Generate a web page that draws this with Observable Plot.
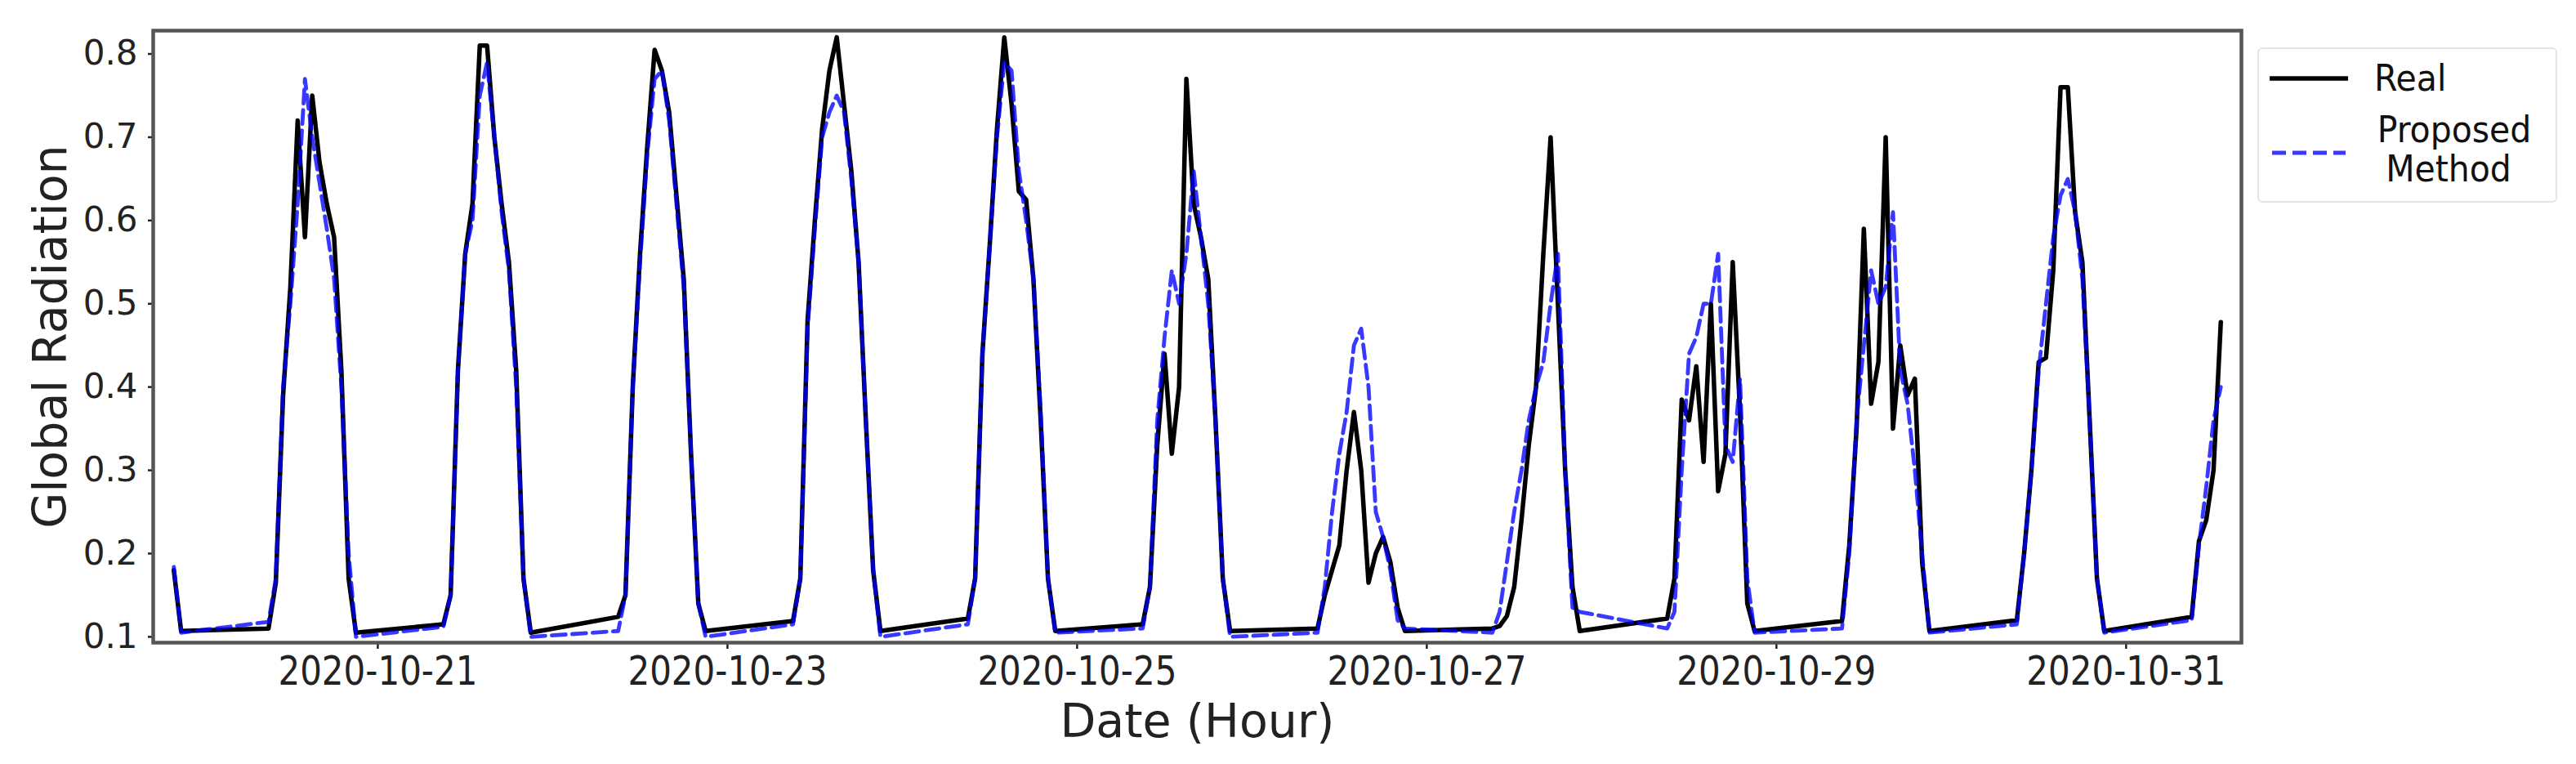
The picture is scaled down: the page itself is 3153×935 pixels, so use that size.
<!DOCTYPE html>
<html>
<head>
<meta charset="utf-8">
<script src="https://cdn.jsdelivr.net/npm/d3@7"></script>
<script src="https://cdn.jsdelivr.net/npm/@observablehq/plot@0.6"></script>
<style>
  html, body { margin: 0; padding: 0; background: #fff; }
  #wrap { position: relative; width: 3153px; height: 935px; font-family: "DejaVu Sans", sans-serif; }
  #legend { position: absolute; left: 2763px; top: 58px; width: 367px; height: 190px;
            border: 2px solid #e4e4e4; border-radius: 6px; box-sizing: border-box; background: #fff; }
  #legend svg { position: absolute; left: 0; top: 0; overflow: visible; }
  #legend text { transform-box: fill-box; transform-origin: center; transform: scaleY(1.1); }
</style>
</head>
<body>
<div id="wrap"></div>
<script>
// ---- data ----
const dates = ["2020-10-19","2020-10-20","2020-10-21","2020-10-22","2020-10-23","2020-10-24",
               "2020-10-25","2020-10-26","2020-10-27","2020-10-28","2020-10-29","2020-10-30","2020-10-31"];
const startHours = [20, 9, 9, 9, 9, 9, 9, 9, 9, 9, 9, 9, 9];

const realValues = [
  [0.180, 0.107],
  [0.110, 0.165, 0.39, 0.52, 0.72, 0.58, 0.75, 0.67, 0.62, 0.58, 0.42, 0.17, 0.105],
  [0.115, 0.15, 0.42, 0.56, 0.62, 0.81, 0.81, 0.70, 0.62, 0.55, 0.42, 0.17, 0.105],
  [0.124, 0.15, 0.40, 0.56, 0.69, 0.805, 0.78, 0.73, 0.63, 0.53, 0.32, 0.14, 0.107],
  [0.119, 0.17, 0.48, 0.60, 0.71, 0.78, 0.82, 0.74, 0.66, 0.55, 0.36, 0.18, 0.107],
  [0.122, 0.17, 0.44, 0.57, 0.71, 0.82, 0.74, 0.635, 0.625, 0.53, 0.36, 0.17, 0.107],
  [0.115, 0.16, 0.33, 0.44, 0.32, 0.40, 0.77, 0.62, 0.58, 0.53, 0.36, 0.17, 0.107],
  [0.110, 0.15, 0.18, 0.21, 0.30, 0.37, 0.30, 0.165, 0.20, 0.22, 0.19, 0.135, 0.107],
  [0.110, 0.113, 0.125, 0.16, 0.24, 0.33, 0.40, 0.56, 0.70, 0.50, 0.30, 0.16, 0.107],
  [0.122, 0.17, 0.385, 0.36, 0.425, 0.31, 0.50, 0.275, 0.32, 0.55, 0.37, 0.14, 0.107],
  [0.119, 0.21, 0.35, 0.59, 0.38, 0.43, 0.70, 0.35, 0.45, 0.39, 0.41, 0.19, 0.107],
  [0.120, 0.20, 0.30, 0.43, 0.435, 0.54, 0.76, 0.76, 0.61, 0.55, 0.36, 0.17, 0.107],
  [0.124, 0.215, 0.24, 0.30, 0.478]
];

const proposedValues = [
  [0.184, 0.105],
  [0.118, 0.17, 0.40, 0.50, 0.62, 0.77, 0.70, 0.645, 0.59, 0.53, 0.40, 0.20, 0.100],
  [0.112, 0.15, 0.42, 0.56, 0.60, 0.75, 0.79, 0.70, 0.61, 0.54, 0.40, 0.17, 0.100],
  [0.107, 0.15, 0.40, 0.55, 0.68, 0.77, 0.78, 0.72, 0.62, 0.52, 0.32, 0.14, 0.100],
  [0.115, 0.17, 0.47, 0.59, 0.70, 0.73, 0.75, 0.73, 0.65, 0.55, 0.36, 0.18, 0.100],
  [0.115, 0.17, 0.44, 0.57, 0.70, 0.79, 0.78, 0.66, 0.60, 0.53, 0.37, 0.17, 0.105],
  [0.110, 0.16, 0.36, 0.46, 0.54, 0.50, 0.56, 0.66, 0.58, 0.50, 0.36, 0.17, 0.100],
  [0.105, 0.16, 0.25, 0.32, 0.37, 0.45, 0.47, 0.40, 0.25, 0.22, 0.18, 0.12, 0.110],
  [0.105, 0.13, 0.19, 0.25, 0.30, 0.36, 0.40, 0.43, 0.50, 0.56, 0.30, 0.135, 0.130],
  [0.110, 0.13, 0.30, 0.44, 0.46, 0.50, 0.50, 0.56, 0.33, 0.31, 0.41, 0.17, 0.105],
  [0.110, 0.20, 0.36, 0.45, 0.54, 0.50, 0.52, 0.61, 0.42, 0.38, 0.30, 0.20, 0.105],
  [0.115, 0.20, 0.30, 0.42, 0.50, 0.58, 0.63, 0.65, 0.61, 0.53, 0.36, 0.17, 0.105],
  [0.120, 0.21, 0.28, 0.36, 0.40]
];

const yTicks = [0.1, 0.2, 0.3, 0.4, 0.5, 0.6, 0.7, 0.8];
const xTickLabels = ["2020-10-21", "2020-10-23", "2020-10-25", "2020-10-27", "2020-10-29", "2020-10-31"];
const xDomain = ["2020-10-19T17:10:00Z", "2020-10-31T15:50:00Z"];
const yDomain = [0.093, 0.828];
const seriesNames = ["Real", "Proposed", "Method"];

// ---- build tables ----
function buildRows(values) {
  const out = [];
  dates.forEach((d, i) => {
    const base = new Date(d + "T00:00:00Z").getTime();
    values[i].forEach((v, j) => out.push({ time: new Date(base + (startHours[i] + j) * 3600e3), value: v }));
  });
  return out;
}
const realRows = buildRows(realValues);
const proposedRows = buildRows(proposedValues);

const M = { top: 37, right: 410, bottom: 149, left: 187 };
const xTickSize = 8, xTickPadding = 9;

const plot = Plot.plot({
  width: 3153,
  height: 935,
  marginLeft: M.left,
  marginRight: M.right,
  marginTop: M.top,
  marginBottom: M.bottom,
  style: { fontFamily: "DejaVu Sans", fontSize: "42px", color: "#222", background: "white", overflow: "visible" },
  x: { type: "utc", domain: xDomain.map(d => new Date(d)) },
  y: { domain: yDomain },
  marks: [
    Plot.axisX({
      ticks: xTickLabels.map(d => new Date(d + "T00:00:00Z")),
      tickFormat: d3.utcFormat("%Y-%m-%d"),
      tickSize: xTickSize, tickPadding: xTickPadding, fontSize: 42, strokeWidth: 2.5,
      label: "Date (Hour)", labelAnchor: "center", labelArrow: "none", labelOffset: 115
    }),
    Plot.axisY({
      ticks: yTicks,
      tickFormat: d3.format(".1f"),
      tickSize: 6, tickPadding: 13, fontSize: 42, strokeWidth: 2.5,
      label: "Global Radiation", labelAnchor: "center", labelArrow: "none", labelOffset: 147
    }),
    Plot.line(realRows, { x: "time", y: "value", stroke: "black", strokeWidth: 5.5 }),
    Plot.line(proposedRows, { x: "time", y: "value", stroke: "#0000ff", strokeOpacity: 0.78,
                              strokeWidth: 4.8, strokeDasharray: "17,8" }),
    Plot.frame({ stroke: "#555", strokeWidth: 4.5 })
  ]
});

// axis label font size
plot.querySelectorAll("g[aria-label='x-axis label'] text, g[aria-label='y-axis label'] text")
  .forEach(t => t.setAttribute("font-size", "57"));

// slightly taller x tick labels, as in the reference: stretch the whole group about the labels' top line
const y0 = 935 - M.bottom + xTickSize + xTickPadding;
plot.querySelectorAll("g[aria-label='x-axis tick label']").forEach(g => {
  const tr = g.getAttribute("transform") || "";
  g.setAttribute("transform", `translate(0,${y0}) scale(1,1.17) translate(0,${-y0}) ${tr}`);
});

const wrap = document.getElementById("wrap");
wrap.appendChild(plot);

// legend
const legend = document.createElement("div");
legend.id = "legend";
legend.innerHTML = `
<svg width="367" height="190" font-family="DejaVu Sans" fill="#111">
  <line x1="13" x2="109" y1="36" y2="36" stroke="black" stroke-width="5.5"/>
  <line x1="16" x2="106" y1="127" y2="127" stroke="#0000ff" stroke-opacity="0.78" stroke-width="4.8" stroke-dasharray="17,8"/>
  <text x="141" y="50" font-size="41">${seriesNames[0]}</text>
  <text x="239" y="113" font-size="41" text-anchor="middle">${seriesNames[1]}</text>
  <text x="232" y="161" font-size="41" text-anchor="middle">${seriesNames[2]}</text>
</svg>`;
wrap.appendChild(legend);
</script>
</body>
</html>
